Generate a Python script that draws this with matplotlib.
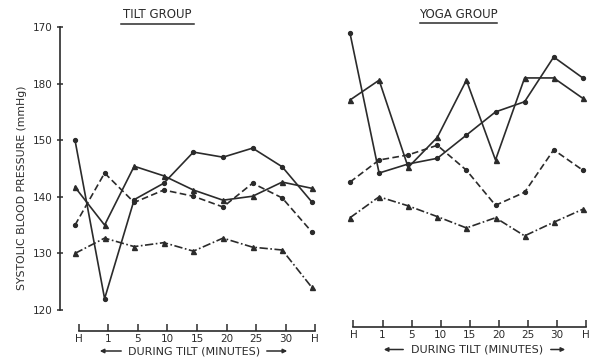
import matplotlib
matplotlib.use("Agg")
import matplotlib.pyplot as plt
from matplotlib.lines import Line2D
from matplotlib.patches import FancyArrowPatch

# ---------------- data ----------------
x_labels = ['H', '1', '5', '10', '15', '20', '25', '30', 'H']
y_ticks = [120, 130, 140, 150, 160, 170]
y_tick_labels = ['120', '130', '140', '150', '180', '170']

tilt_A = [150.0, 122.0, 139.5, 142.4, 147.9, 147.0, 148.6, 145.3, 139.1]
tilt_B = [141.7, 135.0, 145.4, 143.7, 141.2, 139.4, 140.1, 142.6, 141.5]
tilt_C = [135.0, 144.2, 139.0, 141.2, 140.1, 138.2, 142.4, 139.8, 133.8]
tilt_D = [130.0, 132.7, 131.2, 131.9, 130.4, 132.7, 131.1, 130.6, 124.0]

yoga_A = [168.9, 144.2, 145.8, 146.8, 150.9, 155.0, 156.8, 164.7, 161.0]
yoga_B = [157.1, 160.6, 145.2, 150.5, 160.6, 146.5, 161.0, 161.0, 157.4]
yoga_C = [142.6, 146.5, 147.4, 149.1, 144.7, 138.5, 140.8, 148.3, 144.7]
yoga_D = [136.3, 140.0, 138.4, 136.5, 134.5, 136.3, 133.1, 135.5, 137.8]

W, H = 591, 357
col = '#2b2b2b'
fig = plt.figure(figsize=(W / 100, H / 100), dpi=100)
fig.patch.set_facecolor('white')


def fx(x):
    return x / W


def fy(y):
    return 1 - y / H


y_top, y_bot = 27, 310

styles = [
    dict(ls='-', marker='o', ms=2.8),
    dict(ls='-', marker='^', ms=3.6),
    dict(ls=(0, (4, 2)), marker='o', ms=2.8),
    dict(ls=(0, (5, 1.5, 1, 1.5)), marker='^', ms=3.6),
]


def make_panel(x0, x1, first_px, step_px, series, show_y, offset):
    ax = fig.add_axes([fx(x0), fy(y_bot), fx(x1) - fx(x0), fy(y_top) - fy(y_bot)])
    ax.set_xlim((x0 - first_px) / step_px, (x1 - first_px) / step_px)
    ax.set_ylim(120, 170)
    ax.patch.set_alpha(0)
    xs = list(range(len(x_labels)))
    for s, st in zip(series, styles):
        ax.plot(xs, s, color=col, lw=1.2, mfc=col, mec=col, **st)
    for sp in ['top', 'right']:
        ax.spines[sp].set_visible(False)
    ax.spines['bottom'].set_position(('outward', offset))
    tick_pos = [i + 0.12 for i in xs]
    ax.spines['bottom'].set_bounds(tick_pos[0], tick_pos[-1])
    ax.spines['bottom'].set_linewidth(1.2)
    ax.spines['bottom'].set_color(col)
    ax.set_xticks(tick_pos)
    ax.set_xticklabels(x_labels, fontsize=7.5, color=col)
    ax.tick_params(axis='x', direction='in', length=5, width=1.1, pad=2, colors=col)
    if show_y:
        ax.spines['left'].set_bounds(120, 170)
        ax.spines['left'].set_linewidth(1.2)
        ax.spines['left'].set_color(col)
        ax.set_yticks(y_ticks)
        ax.set_yticklabels(y_tick_labels, fontsize=7.5, color=col)
        ax.tick_params(axis='y', direction='inout', length=5, width=1.1, pad=3, colors=col)
    else:
        ax.spines['left'].set_visible(False)
        ax.set_yticks([])
    return ax


make_panel(60, 322, 75, 29.6, [tilt_A, tilt_B, tilt_C, tilt_D], True, 15)
make_panel(340, 591, 350, 29.1, [yoga_A, yoga_B, yoga_C, yoga_D], False, 12.5)

# titles with underline
for txt, cx, y, ux0, ux1, uy in [('TILT GROUP', 157, 15, 121, 194, 24),
                                  ('YOGA GROUP', 458, 14, 420, 497, 23)]:
    fig.text(fx(cx), fy(y), txt, ha='center', va='center', fontsize=8.5, color=col)
    fig.add_artist(Line2D([fx(ux0), fx(ux1)], [fy(uy), fy(uy)], color=col, lw=1.1,
                          transform=fig.transFigure))

# y label
fig.text(fx(22), fy(188), 'SYSTOLIC BLOOD PRESSURE (mmHg)', rotation=90,
         ha='center', va='center', fontsize=7.8, color=col)

# x "during tilt" annotations with arrows
for cx, y, a0, a1, b0, b1 in [(194, 351, 124, 97, 264, 290),
                              (477, 349.5, 406, 381, 548, 568)]:
    fig.text(fx(cx), fy(y), 'DURING TILT (MINUTES)', ha='center', va='center',
             fontsize=8, color=col)
    for s0, s1 in [(a0, a1), (b0, b1)]:
        fig.add_artist(FancyArrowPatch((fx(s0), fy(y)), (fx(s1), fy(y)),
                                       transform=fig.transFigure, arrowstyle='-|>',
                                       mutation_scale=6, color=col, lw=1.1))

fig.savefig('out.png', dpi=100, facecolor='white')
